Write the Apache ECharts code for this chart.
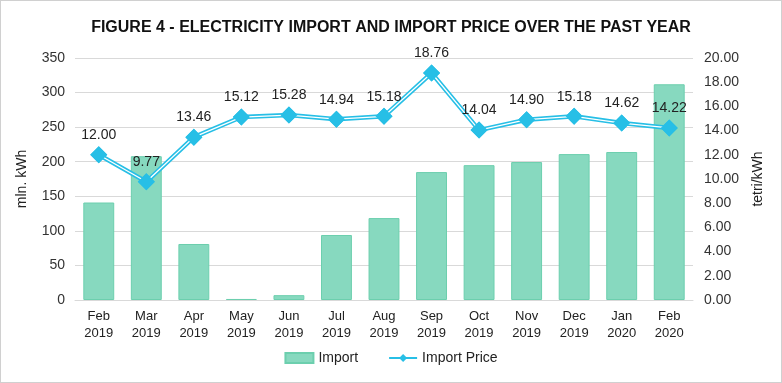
<!DOCTYPE html>
<html><head><meta charset="utf-8">
<script src="https://cdn.jsdelivr.net/npm/echarts@6/dist/echarts.min.js"></script>
<style>html,body{margin:0;padding:0;background:#fff}#c{width:780px;height:381px;border:1px solid #d0d0d0}</style>
</head><body><div id="c"></div>
<script>
const categories = ['Feb\n2019','Mar\n2019','Apr\n2019','May\n2019','Jun\n2019','Jul\n2019','Aug\n2019','Sep\n2019','Oct\n2019','Nov\n2019','Dec\n2019','Jan\n2020','Feb\n2020'];
const importVals = [141, 208, 81, 1.5, 7, 94, 118.5, 185, 195, 199.5, 211, 214, 312];
const priceVals = [12.00, 9.77, 13.46, 15.12, 15.28, 14.94, 15.18, 18.76, 14.04, 14.90, 15.18, 14.62, 14.22];
const leftTicks = {min:0, max:350, interval:50};
const rightTicks = {min:0, max:20, interval:2};

const F = "'Liberation Sans Narrow','Arial Narrow','Liberation Sans',sans-serif";
const LC = '#27BFE6';
const chart = echarts.init(document.getElementById('c'));
chart.setOption({
  animation:false,
  textStyle:{fontFamily:F},
  title:{text:'FIGURE 4 - ELECTRICITY IMPORT AND IMPORT PRICE OVER THE PAST YEAR',left:'center',top:14,
    textStyle:{fontFamily:F,fontSize:16,fontWeight:'bold',color:'#111'}},
  grid:{left:74,right:88,top:57,bottom:82},
  legend:{bottom:12,left:'center',itemGap:30,itemWidth:28,itemHeight:10,
    textStyle:{fontFamily:F,fontSize:14,color:'#222'},
    data:[{name:'Import',icon:'rect'},{name:'Import Price'}]},
  xAxis:{type:'category',data:categories,
    axisLine:{lineStyle:{color:'#d9d9d9'}},axisTick:{show:false},
    axisLabel:{fontFamily:F,fontSize:13,color:'#222',lineHeight:17,margin:8,interval:0}},
  yAxis:[
    {type:'value',min:leftTicks.min,max:leftTicks.max,interval:leftTicks.interval,
     name:'mln. kWh',nameLocation:'middle',nameGap:46,nameRotate:90,
     nameTextStyle:{fontFamily:F,fontSize:14,color:'#222'},
     axisLabel:{fontFamily:F,fontSize:14,color:'#333',margin:10},
     splitLine:{lineStyle:{color:'#d9d9d9'}},axisLine:{show:false},axisTick:{show:false}},
    {type:'value',min:rightTicks.min,max:rightTicks.max,interval:rightTicks.interval,
     name:'tetri/kWh',nameLocation:'middle',nameGap:58,nameRotate:90,
     nameTextStyle:{fontFamily:F,fontSize:14,color:'#222'},
     axisLabel:{fontFamily:F,fontSize:14,color:'#333',margin:11,formatter:v=>v.toFixed(2)},
     splitLine:{show:false},axisLine:{show:false},axisTick:{show:false}}
  ],
  series:[
    {name:'Import',type:'bar',data:importVals,barWidth:'65%',yAxisIndex:0,
     itemStyle:{color:'#87D9BF',borderColor:'#6CCFAE',borderWidth:1},z:1},
    {name:'Import Price',type:'line',data:priceVals,yAxisIndex:1,
     lineStyle:{color:LC,width:4.5},itemStyle:{color:LC},symbol:'diamond',symbolSize:17,z:3},
    {name:'pw',type:'line',data:priceVals,yAxisIndex:1,symbol:'none',
     lineStyle:{color:'#fff',width:1.3},z:4,silent:true},
    {name:'pd',type:'line',data:priceVals,yAxisIndex:1,symbol:'diamond',symbolSize:17,
     lineStyle:{width:0,opacity:0},itemStyle:{color:LC},z:5,silent:true,
     label:{show:true,position:'top',distance:4,fontFamily:F,fontSize:14,color:'#222',formatter:p=>p.value.toFixed(2)}}
  ]
});
</script></body></html>
